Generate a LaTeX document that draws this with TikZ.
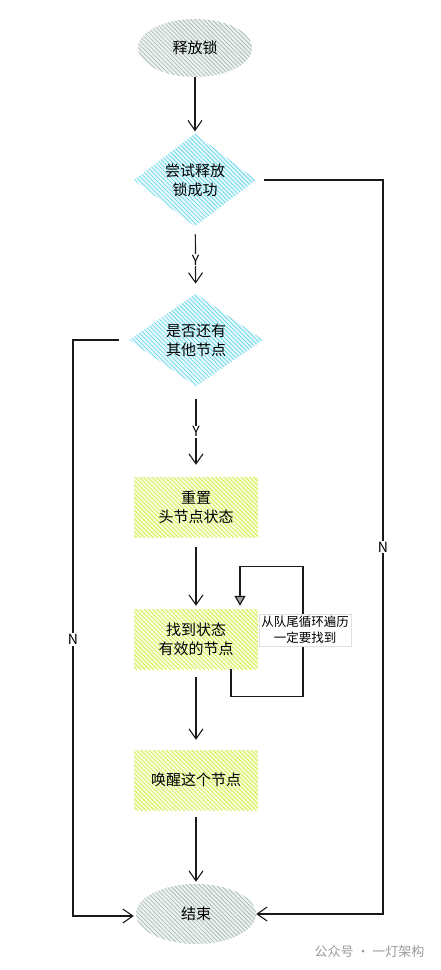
\documentclass[tikz,border=0pt]{standalone}
\usepackage{fontspec}
\newfontfamily\cjk{Noto Sans CJK SC}
\usetikzlibrary{shapes.geometric,arrows.meta,patterns.meta,positioning,calc}
\definecolor{hatchgray}{HTML}{A9BFBA}
\definecolor{hatchcyan}{HTML}{6ED9EE}
\definecolor{hatchyellow}{HTML}{D6EE4E}
\definecolor{inkline}{HTML}{1A1A1A}
\tikzstyle{arrow} = [line width=1.2pt, draw=inkline, -{Straight Barb[length=10pt,width=14pt,line width=1.1pt]}]
\tikzstyle{looparrow} = [line width=1.2pt, draw=inkline, -{Triangle[length=10pt,width=11pt,fill=gray!70]}]
\tikzstyle{hatch} = [pattern={Lines[angle=-45,distance=3pt,line width=0.8pt]}]
\tikzstyle{txt} = [font=\cjk\fontsize{15}{19}\selectfont, align=center, text=black]
\tikzstyle{startend} = [ellipse, txt, hatch, pattern color=hatchgray, preaction={fill=hatchgray!20}, minimum width=114pt, minimum height=58pt]
\tikzstyle{decision} = [diamond, txt, hatch, pattern color=hatchcyan, preaction={fill=hatchcyan!15}, inner sep=0pt]
\tikzstyle{process} = [rectangle, txt, hatch, pattern color=hatchyellow, preaction={fill=hatchyellow!20}, minimum width=124pt, minimum height=60pt]
\tikzstyle{yn} = [font=\cjk\fontsize{14}{16}\selectfont, fill=white, inner sep=1pt]

\begin{document}
\begin{tikzpicture}[x=1pt,y=-1pt]
\useasboundingbox (0,0) rectangle (440,970);
 \node[startend] (release) at (195,48) {释放锁};
 \node[decision, minimum width=122pt, minimum height=66pt] (try) at (195,180) {尝试释放\\锁成功};
 \node[decision, minimum width=134pt, minimum height=78pt] (more) at (196,340) {是否还有\\其他节点};
 \node[process] (reset) at (196,507) {重置\\头节点状态};
 \node[process] (find) at (196,639) {找到状态\\有效的节点};
 \node[process] (wake) at (196,780) {唤醒这个节点};
 \node[startend, minimum width=120pt, minimum height=60pt] (done) at (196,914) {结束};
 \coordinate (rightrail) at (383,0);
 \coordinate (leftrail) at (73,0);

 \draw[arrow, shorten >=2pt] (release) -- (try);
 \draw[arrow, shorten <=8pt, shorten >=10pt] (try) -- node[yn] {Y} (more);
 \draw[arrow, shorten <=12pt, shorten >=12pt] (more) -- node[yn] {Y} (reset);
 \draw[arrow, shorten <=10pt, shorten >=3pt] (reset) -- (find);
 \draw[arrow, shorten <=8pt, shorten >=10pt] (find) -- (wake);
 \draw[arrow, shorten <=7pt, shorten >=2pt] (wake) -- (done);

 % N branches
 \draw[arrow, shorten <=8pt] (try.east) -- (try.east -| rightrail)
    -- node[yn, pos=0.5] {N} (done.east -| rightrail) -- (done.east);
 \draw[arrow, shorten <=10pt, shorten >=2pt] (more.west) -- (more.west -| leftrail)
    -- node[yn, pos=0.52] {N} ([yshift=-2pt]done.west -| leftrail) -- ([yshift=-2pt]done.west);

 % self loop
 \draw[looparrow, shorten >=3pt] ([xshift=35pt]find.south) |- ++(72,27) |- ++(-63,-130)
    -- ([xshift=44pt]find.north);
 \node[font=\cjk\fontsize{12.5}{16}\selectfont, align=center, fill=white, draw=gray!25,
    inner sep=2pt] (looptext) at (305,630) {从队尾循环遍历\\一定要找到};

 \node[font=\cjk\fontsize{13}{15}\selectfont, text=gray!80, anchor=east] (mark) at (428,952) {公众号 · 一灯架构};
\end{tikzpicture}
\end{document}
